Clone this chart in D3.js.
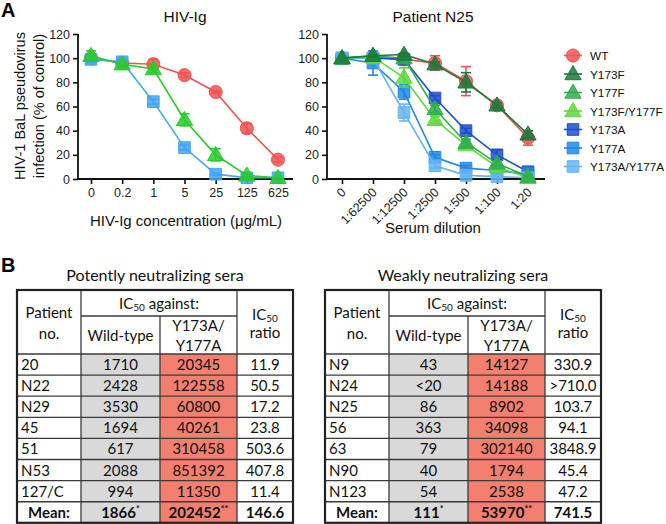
<!DOCTYPE html>
<html>
<head>
<meta charset="utf-8">
<script src="https://cdn.jsdelivr.net/npm/d3@7/dist/d3.min.js"></script>
<style>
body{margin:0;background:#fff}
svg{display:block}
.ax text{font-family:"Liberation Sans",Arial,sans-serif;font-size:12.5px;fill:#222}
</style>
</head>
<body>
<svg id="fig" width="666" height="524"></svg>
<script>
// panel A data
const hivDoses = ['0','0.2','1','5','25','125','625'];
const dilutions = ['0','1:62500','1:12500','1:2500','1:500','1:100','1:20'];
const yTicks = [0,20,40,60,80,100,120];

const hivWT = [100,96,95,86,72,42,16];
const hivWTErr = [0,2,4,2,1,4,2];
const hivFF = [102,95,91,49,20,3,1];
const hivFFErr = [4,2,3,5,5,1,0];
const hivAA = [99,97,64,26,4,1,1];
const hivAAErr = [2,3,2,2,1,0,0];

const seriesNames = ['WT','Y173F','Y177F','Y173F/Y177F','Y173A','Y177A','Y173A/Y177A'];
const n25WT = [100,101,99,96,81,61,34];
const n25WTErr = [0,1,2,6,12,3,6];
const n25Y173F = [100,102,103,95,80,61,37];
const n25Y173FErr = [0,1,1,2,8,2,3];
const n25Y177F = [100,102,100,58,30,13,2];
const n25Y177FErr = [0,1,1,3,3,2,1];
const n25FF = [100,101,84,49,28,10,1];
const n25FFErr = [0,1,8,3,3,1,1];
const n25Y173A = [100,100,99,67,40,20,6];
const n25Y173AErr = [0,1,2,2,2,4,2];
const n25Y177A = [100,96,72,18,9,7,4];
const n25Y177AErr = [3,10,6,2,2,2,1];
const n25AA = [100,100,55,11,3,2,1];
const n25AAErr = [0,1,7,2,1,1,1];

// panel B data
const potentPatients = ['20','N22','N29','45','51','N53','127/C'];
const potentWT = ['1710','2428','3530','1694','617','2088','994'];
const potentAA = ['20345','122558','60800','40261','310458','851392','11350'];
const potentRatio = ['11.9','50.5','17.2','23.8','503.6','407.8','11.4'];
const potentMean = ['Mean:','1866','202452','146.6'];

const weakPatients = ['N9','N24','N25','56','63','N90','N123'];
const weakWT = ['43','<20','86','363','79','40','54'];
const weakAA = ['14127','14188','8902','34098','302140','1794','2538'];
const weakRatio = ['330.9','>710.0','103.7','94.1','3848.9','45.4','47.2'];
const weakMean = ['Mean:','111','53970','741.5'];

const colors = {
  'WT':'#ef5454','Y173F':'#1d7a3b','Y177F':'#2fae4c','Y173F/Y177F':'#5fd83c',
  'Y173A':'#1d4fcc','Y177A':'#1e88e5','Y173A/Y177A':'#63b4f7',
  'hivFF':'#27cc2a','hivAA':'#41a6f3'
};
const shapes = {
  'WT':d3.symbolCircle,'Y173F':d3.symbolTriangle,'Y177F':d3.symbolTriangle,'Y173F/Y177F':d3.symbolTriangle,
  'Y173A':d3.symbolSquare,'Y177A':d3.symbolSquare,'Y173A/Y177A':d3.symbolSquare
};

const svg = d3.select('#fig');
const sans = '"Liberation Sans",Arial,sans-serif';
const cal = 'Lato,"Open Sans",sans-serif';

const symSize = s => s===d3.symbolTriangle ? 115 : 135;

const drawCurves = (cfg) => {
  let g = svg.append('g');
  let x = d3.scalePoint().domain(cfg.cats).range([cfg.x0, cfg.x1]);
  let y = d3.scaleLinear().domain([0,120]).range([179,34]);

  let yAx = g.append('g').attr('class','ax')
    .attr('transform','translate('+cfg.ax+',0)')
    .call(d3.axisLeft(y).tickValues(yTicks).tickSize(5).tickSizeOuter(0).tickPadding(3));
  yAx.select('.domain').remove();
  yAx.selectAll('line').attr('stroke','#111').attr('stroke-width',1.6);

  let xAx = g.append('g').attr('class','ax')
    .attr('transform','translate(0,179)')
    .call(d3.axisBottom(x).tickSize(5).tickSizeOuter(0).tickPadding(4));
  xAx.select('.domain').remove();
  xAx.selectAll('line').attr('stroke','#111').attr('stroke-width',1.6);
  if (cfg.rotate) {
    xAx.selectAll('text')
      .attr('y',0).attr('dy','0.35em')
      .attr('text-anchor','end')
      .attr('transform','translate(1,11) rotate(-45)');
  }

  g.append('line').attr('x1',cfg.ax).attr('x2',cfg.ax).attr('y1',179.8).attr('y2',y(120))
    .attr('stroke','#111').attr('stroke-width',1.8);
  g.append('line').attr('x1',cfg.ax).attr('x2',cfg.axEnd).attr('y1',179).attr('y2',179)
    .attr('stroke','#111').attr('stroke-width',1.8);

  let line = d3.line().x((d,i)=>x(cfg.cats[i])).y(d=>y(d));

  cfg.series.forEach(s=>{
    let c = colors[s.color];
    let sg = g.append('g');
    sg.append('path').datum(s.values).attr('d',line)
      .attr('fill','none').attr('stroke',c).attr('stroke-width',1.6);
    // error bars
    s.values.forEach((v,i)=>{
      if (!s.err[i]) return;
      let cx = x(cfg.cats[i]);
      sg.append('line').attr('x1',cx).attr('x2',cx).attr('y1',y(v-s.err[i])).attr('y2',y(v+s.err[i]))
        .attr('stroke',c).attr('stroke-width',1.6);
      [v-s.err[i], v+s.err[i]].forEach(e=>{
        sg.append('line').attr('x1',cx-5).attr('x2',cx+5).attr('y1',y(e)).attr('y2',y(e))
          .attr('stroke',c).attr('stroke-width',1.6);
      });
    });
    let shp = shapes[s.shape];
    sg.selectAll('.pt').data(s.values).enter().append('path')
      .attr('class','pt')
      .attr('transform',(d,i)=>'translate('+x(cfg.cats[i])+','+(y(d)+(shp===d3.symbolTriangle?1:0))+')')
      .attr('d',d3.symbol().type(shp).size(symSize(shp)))
      .attr('fill',c).attr('fill-opacity',0.85).attr('stroke',c).attr('stroke-width',1);
  });

  g.append('text').attr('x',cfg.titleX).attr('y',22).attr('text-anchor','middle')
    .style('font-family',sans).style('font-size','15.5px').attr('fill','#111').text(cfg.title);
  g.append('text').attr('x',cfg.xlabX).attr('y',cfg.xlabY).attr('text-anchor','middle')
    .style('font-family',sans).style('font-size','15px').attr('fill','#111').text(cfg.xlab);
};

drawCurves({
  cats:hivDoses, x0:91, x1:278, ax:78, axEnd:293, title:'HIV-Ig', titleX:185,
  xlab:'HIV-Ig concentration (\u03bcg/mL)', xlabX:186, xlabY:226,
  series:[
    {values:hivWT, err:hivWTErr, color:'WT', shape:'WT'},
    {values:hivAA, err:hivAAErr, color:'hivAA', shape:'Y173A'},
    {values:hivFF, err:hivFFErr, color:'hivFF', shape:'Y173F'}
  ]
});

drawCurves({
  cats:dilutions, x0:342, x1:528, ax:327, axEnd:545, title:'Patient N25', titleX:433, rotate:true,
  xlab:'Serum dilution', xlabX:433, xlabY:233,
  series:[
    {values:n25WT, err:n25WTErr, color:'WT', shape:'WT'},
    {values:n25Y173A, err:n25Y173AErr, color:'Y173A', shape:'Y173A'},
    {values:n25Y177A, err:n25Y177AErr, color:'Y177A', shape:'Y177A'},
    {values:n25AA, err:n25AAErr, color:'Y173A/Y177A', shape:'Y173A/Y177A'},
    {values:n25FF, err:n25FFErr, color:'Y173F/Y177F', shape:'Y173F/Y177F'},
    {values:n25Y177F, err:n25Y177FErr, color:'Y177F', shape:'Y177F'},
    {values:n25Y173F, err:n25Y173FErr, color:'Y173F', shape:'Y173F'}
  ]
});

// y label
[['HIV-1 BaL pseudovirus',25],['infection (% of control)',44]].forEach(d=>{
  svg.append('text').attr('transform','translate('+d[1]+',106) rotate(-90)')
    .attr('text-anchor','middle').style('font-family',sans).style('font-size','14.5px')
    .attr('fill','#111').text(d[0]);
});

// legend
let leg = svg.append('g').selectAll('g').data(seriesNames).enter().append('g')
  .attr('transform',(d,i)=>'translate(573,'+(55.5+i*18.5)+')');
leg.append('line').attr('x1',-9).attr('x2',9).attr('stroke',d=>colors[d]).attr('stroke-width',1.6);
leg.append('path').attr('d',d=>d3.symbol().type(shapes[d]).size(symSize(shapes[d]))())
  .attr('transform',d=>shapes[d]===d3.symbolTriangle?'translate(0,1)':null)
  .attr('fill',d=>colors[d]).attr('fill-opacity',0.85).attr('stroke',d=>colors[d]);
leg.append('text').attr('x',17).attr('y',4.5).style('font-family',sans).style('font-size','11.8px')
  .attr('fill','#111').text(d=>d);

// panel letters
svg.append('text').attr('x',1).attr('y',17).style('font-family',sans).style('font-weight','bold')
  .style('font-size','20px').text('A');
svg.append('text').attr('x',1).attr('y',272).style('font-family',sans).style('font-weight','bold')
  .style('font-size','20px').text('B');

// tables
const colW = [64,79,77,56];
const cellFill = ['#fff','#d9d9d9','#f3806f','#fff'];

const drawTable = (left, title, patients, wt, aa, ratio, mean) => {
  let g = svg.append('g');
  let edges = [left];
  colW.forEach(w=>edges.push(edges[edges.length-1]+w));
  let top = 290, mid = 316, hb = 354, rh = 21.1;
  let rows = patients.map((p,i)=>[p, wt[i], aa[i], ratio[i]]);
  rows.push(mean);
  let ry = d3.scaleBand().domain(d3.range(rows.length)).range([hb, hb+rh*rows.length]);
  let right = edges[4], bottom = hb+rh*rows.length;

  g.append('text').attr('x',(left+right)/2).attr('y',281).attr('text-anchor','middle')
    .style('font-family',cal).style('font-size','16px').attr('fill','#111').text(title);

  rows.forEach((r,i)=>{
    r.forEach((v,j)=>{
      g.append('rect').attr('x',edges[j]).attr('y',ry(i)).attr('width',colW[j]).attr('height',ry.bandwidth())
        .attr('fill',cellFill[j]);
      let last = i===rows.length-1;
      let t = g.append('text')
        .attr('x', j===0 && !last ? edges[0]+4 : (edges[j]+edges[j+1])/2)
        .attr('y', ry(i)+ry.bandwidth()/2+5.5)
        .attr('text-anchor', j===0 && !last ? 'start' : 'middle')
        .style('font-family',cal).style('font-size','15px').attr('fill','#111')
        .style('font-weight', last ? 'bold' : 'normal');
      t.append('tspan').text(v);
      if (last && (j===1 || j===2)) {
        t.append('tspan').attr('dy',-6).style('font-size','9px').text(j===1?'*':'**');
      }
    });
  });

  let txt = (x,y,s,sub,rest) => {
    let t = g.append('text').attr('x',x).attr('y',y).attr('text-anchor','middle')
      .style('font-family',cal).style('font-size','15px').attr('fill','#111');
    t.append('tspan').text(s);
    if (sub) {
      t.append('tspan').attr('dy',2).style('font-size','10px').text(sub);
      t.append('tspan').attr('dy',-2).text(rest);
    }
  };
  let c0 = (edges[0]+edges[1])/2, c1 = (edges[1]+edges[2])/2, c2 = (edges[2]+edges[3])/2, c3 = (edges[3]+edges[4])/2;
  txt(c0,318,'Patient'); txt(c0,339,'no.');
  txt((edges[1]+edges[3])/2,309,'IC','50',' against:');
  txt(c1,341,'Wild-type');
  txt(c2,331,'Y173A/'); txt(c2,351,'Y177A');
  txt(c3,320,'IC','50',''); txt(c3,338,'ratio');

  let ln = (x1,y1,x2,y2,w) => g.append('line').attr('x1',x1).attr('y1',y1).attr('x2',x2).attr('y2',y2)
    .attr('stroke','#3a3a3a').attr('stroke-width',w||1.3);
  ln(edges[1],mid,edges[3],mid);
  ln(left,hb,right,hb,1.6);
  d3.range(1,rows.length).forEach(i=>ln(left,ry(i),right,ry(i), i===rows.length-1?1.6:1.3));
  ln(edges[1],top,edges[1],bottom);
  ln(edges[3],top,edges[3],bottom);
  ln(edges[2],mid,edges[2],bottom);
  g.append('rect').attr('x',left).attr('y',top).attr('width',right-left).attr('height',bottom-top)
    .attr('fill','none').attr('stroke','#222').attr('stroke-width',2.2);
};

drawTable(17,'Potently neutralizing sera',potentPatients,potentWT,potentAA,potentRatio,potentMean);
drawTable(325,'Weakly neutralizing sera',weakPatients,weakWT,weakAA,weakRatio,weakMean);
</script>
</body>
</html>
